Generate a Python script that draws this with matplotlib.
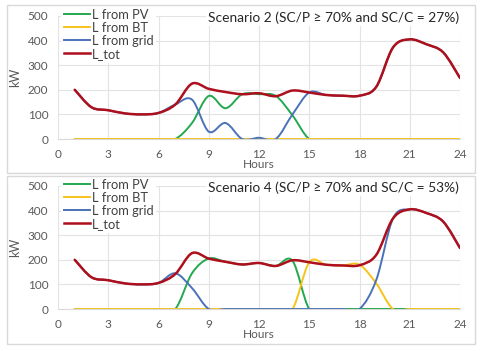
import matplotlib
matplotlib.use("Agg")
import matplotlib.pyplot as plt
from matplotlib.path import Path
from matplotlib.patches import PathPatch, Rectangle
import numpy as np

plt.rcParams['font.family'] = ['Lato', 'DejaVu Sans']

hours = list(range(1, 25))
xticks = [0, 3, 6, 9, 12, 15, 18, 21, 24]
yticks = [0, 100, 200, 300, 400, 500]

# Scenario 2
s2_tot = [200, 129, 117, 104, 100, 106, 140, 225, 204, 191, 182, 186, 174, 197, 189, 179, 176, 176, 212, 372, 405, 385, 352, 248]
s2_pv = [0, 0, 0, 0, 0, 0, 0, 65, 175, 125, 182, 182, 175, 96, 0, 0, 0, 0, 0, 0, 0, 0, 0, 0]
s2_bt = [0] * 24
s2_grid = [200, 129, 117, 104, 100, 106, 140, 160, 30, 65, 0, 5, 0, 100, 189, 179, 176, 176, 212, 372, 405, 385, 352, 248]

# Scenario 4
s4_tot = [200, 129, 117, 104, 100, 106, 142, 227, 205, 192, 181, 187, 175, 198, 190, 180, 177, 178, 220, 368, 405, 390, 355, 248]
s4_pv = [0, 0, 0, 0, 0, 0, 0, 145, 205, 192, 181, 187, 175, 196, 0, 0, 0, 0, 0, 0, 0, 0, 0, 0]
s4_bt = [0, 0, 0, 0, 0, 0, 0, 0, 0, 0, 0, 0, 0, 0, 190, 180, 177, 180, 104, 0, 0, 0, 0, 0]
s4_grid = [200, 129, 117, 104, 100, 106, 145, 85, 0, 0, 0, 0, 0, 0, 0, 0, 0, 0, 118, 368, 405, 390, 355, 248]

labels = ['L from PV', 'L from BT', 'L from grid', 'L_tot']
colors = ['#22a84f', '#f7c21b', '#4a72b8', '#ad0f1c']
widths = [1.4, 1.4, 1.4, 1.8]

scenarios = [
    ("Scenario 2 (SC/P \u2265 70% and SC/C = 27%)", [s2_pv, s2_bt, s2_grid, s2_tot]),
    ("Scenario 4 (SC/P \u2265 70% and SC/C = 53%)", [s4_pv, s4_bt, s4_grid, s4_tot]),
]


def smooth_path(x, y):
    x = np.asarray(x, float)
    y = np.asarray(y, float)
    n = len(x)
    verts = [(x[0], y[0])]
    codes = [Path.MOVETO]
    for i in range(n - 1):
        i0 = max(i - 1, 0)
        i3 = min(i + 2, n - 1)
        c1 = (x[i] + (x[i + 1] - x[i0]) / 6, y[i] + (y[i + 1] - y[i0]) / 6)
        c2 = (x[i + 1] - (x[i3] - x[i]) / 6, y[i + 1] - (y[i3] - y[i]) / 6)
        verts += [c1, c2, (x[i + 1], y[i + 1])]
        codes += [Path.CURVE4] * 3
    return Path(verts, codes)


W, H = 480, 351
fig = plt.figure(figsize=(W / 100, H / 100), dpi=100)

# panel frames (pixels from top)
for (y0, y1) in [(5, 173), (176, 344)]:
    fig.add_artist(Rectangle((7 / W, 1 - y1 / H), 468 / W, (y1 - y0) / H,
                             transform=fig.transFigure, fill=False,
                             edgecolor='#d9d9d9', linewidth=1.0))

axes_pix = [(16, 139), (186, 309)]
for (title, series), (ytop, ybot) in zip(scenarios, axes_pix):
    ax = fig.add_axes([58 / W, 1 - ybot / H, 402 / W, (ybot - ytop) / H])
    ax.set_xlim(0, 24)
    ax.set_ylim(0, 500)
    ax.set_xticks(xticks)
    ax.set_yticks(yticks)
    ax.grid(True, color='#e3e3e3', linewidth=0.8)
    ax.set_axisbelow(True)
    for sp in ['top', 'right', 'left']:
        ax.spines[sp].set_visible(False)
    ax.spines['bottom'].set_color('#d9d9d9')
    ax.tick_params(length=0, labelsize=8.5, colors='#595959', pad=7)
    handles = []
    for vals, lab, col, lw in zip(series, labels, colors, widths):
        patch = PathPatch(smooth_path(hours, vals), fill=False, edgecolor=col,
                          linewidth=lw, capstyle='round', joinstyle='round')
        ax.add_patch(patch)
        h, = ax.plot([], [], color=col, linewidth=lw, label=lab)
        handles.append(h)
    leg = ax.legend(handles=handles, loc='upper left', bbox_to_anchor=(0.008, 1.085),
                    fontsize=9.3, frameon=True, framealpha=1, edgecolor='none',
                    facecolor='white', handlelength=1.95, handletextpad=0.15,
                    labelspacing=0.08, borderpad=0.25, borderaxespad=0,
                    fancybox=False)
    for t in leg.get_texts():
        t.set_color('#404040')
    ax.text(0.998, 0.99, title, transform=ax.transAxes, ha='right', va='center',
            fontsize=9.9, color='#262626',
            bbox=dict(facecolor='white', edgecolor='none', pad=1.5))
    ax.text(0.5, -0.21, 'Hours', transform=ax.transAxes, ha='center', va='center',
            fontsize=8.5, color='#595959')
    ax.text(-0.107, 0.5, 'kW', transform=ax.transAxes, ha='center', va='center',
            rotation=90, fontsize=9, color='#595959')

fig.savefig('out.png', dpi=100)
